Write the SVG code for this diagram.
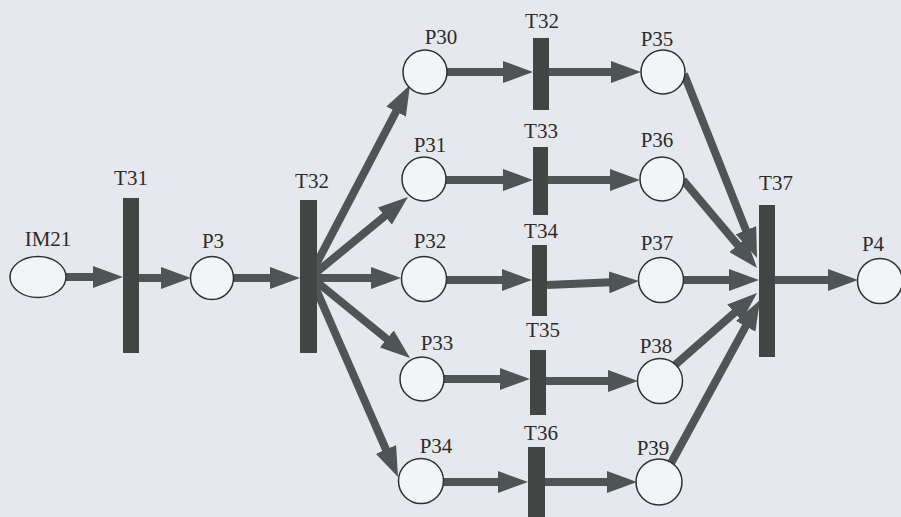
<svg xmlns="http://www.w3.org/2000/svg" width="901" height="517" viewBox="0 0 901 517">
<defs>
<marker id="ah" viewBox="0 0 30 22" refX="8" refY="11" markerWidth="30" markerHeight="22" markerUnits="userSpaceOnUse" orient="auto">
<path d="M0,0 L30,11 L0,22 z" fill="#4f5554"/>
</marker>
<style>
.bg{fill:#e7e8ed}
.bar{fill:#414645}
.pl{fill:#f3f4f7;stroke:#2e3131;stroke-width:1.5}
.lb{font-family:"Liberation Serif","Times New Roman",serif;font-size:21px;fill:#2a2c2c;text-anchor:middle}
.ar{stroke:#4f5554;stroke-width:8;fill:none;marker-end:url(#ah)}
</style>
</defs>
<rect class="bg" x="0" y="0" width="901" height="517"/>
<g id="connectors">
<line class="ar" x1="66" y1="277" x2="101" y2="277"/>
<line class="ar" x1="139" y1="278" x2="169" y2="278"/>
<line class="ar" x1="233" y1="278" x2="278" y2="278"/>
<line class="ar" x1="310" y1="276" x2="399.8" y2="104.5"/>
<line class="ar" x1="312" y1="276" x2="391" y2="211"/>
<line class="ar" x1="317" y1="278" x2="379" y2="278"/>
<line class="ar" x1="312" y1="278" x2="393" y2="344"/>
<line class="ar" x1="312" y1="280" x2="389.2" y2="456.8"/>
<line class="ar" x1="447" y1="72" x2="511" y2="72"/>
<line class="ar" x1="446" y1="180" x2="511" y2="180"/>
<line class="ar" x1="446" y1="280" x2="510" y2="280"/>
<line class="ar" x1="444" y1="379" x2="508" y2="379"/>
<line class="ar" x1="443" y1="482" x2="506" y2="482"/>
<line class="ar" x1="549" y1="72" x2="619" y2="72"/>
<line class="ar" x1="548" y1="180" x2="618" y2="180"/>
<line class="ar" x1="547" y1="285" x2="617" y2="282"/>
<line class="ar" x1="546" y1="381" x2="616" y2="381"/>
<line class="ar" x1="545" y1="482" x2="615" y2="482"/>
<line class="ar" x1="684" y1="74" x2="748.9" y2="237.6"/>
<line class="ar" x1="683" y1="180" x2="742.9" y2="251.2"/>
<line class="ar" x1="683" y1="280" x2="737" y2="280"/>
<line class="ar" x1="675" y1="365" x2="740.5" y2="307.5"/>
<line class="ar" x1="670" y1="465" x2="749.5" y2="319.3"/>
<line class="ar" x1="775" y1="280" x2="836" y2="280"/>
</g>
<g id="IM21"><ellipse class="pl" cx="38" cy="277" rx="28" ry="20.5"/><text class="lb" x="48" y="246">IM21</text></g>
<g id="T31"><rect class="bar" x="123" y="198" width="16" height="155"/><text class="lb" x="131" y="185">T31</text></g>
<g id="P3"><circle class="pl" cx="212" cy="278" r="21.5"/><text class="lb" x="213" y="248">P3</text></g>
<g id="T32a"><rect class="bar" x="300" y="200" width="17" height="153"/><text class="lb" x="312" y="188">T32</text></g>
<g id="P30"><circle class="pl" cx="425" cy="72" r="22"/><text class="lb" x="441" y="44">P30</text></g>
<g id="P31"><circle class="pl" cx="424" cy="179" r="22"/><text class="lb" x="430" y="152">P31</text></g>
<g id="P32"><circle class="pl" cx="424" cy="279" r="22.5"/><text class="lb" x="430" y="248">P32</text></g>
<g id="P33"><circle class="pl" cx="422" cy="379" r="22"/><text class="lb" x="437" y="350">P33</text></g>
<g id="P34"><circle class="pl" cx="421" cy="481" r="22.5"/><text class="lb" x="436" y="453">P34</text></g>
<g id="T32b"><rect class="bar" x="533" y="38" width="16" height="72"/><text class="lb" x="542" y="28">T32</text></g>
<g id="T33"><rect class="bar" x="533" y="147" width="15" height="68"/><text class="lb" x="541" y="138">T33</text></g>
<g id="T34"><rect class="bar" x="532" y="245" width="15" height="71"/><text class="lb" x="541" y="238">T34</text></g>
<g id="T35"><rect class="bar" x="530" y="350" width="16" height="65"/><text class="lb" x="543" y="337">T35</text></g>
<g id="T36"><rect class="bar" x="528" y="447" width="17" height="80"/><text class="lb" x="541" y="440">T36</text></g>
<g id="P35"><circle class="pl" cx="663" cy="72" r="22"/><text class="lb" x="657" y="46">P35</text></g>
<g id="P36"><circle class="pl" cx="662" cy="179" r="22"/><text class="lb" x="657" y="147">P36</text></g>
<g id="P37"><circle class="pl" cx="661" cy="280" r="22.5"/><text class="lb" x="657" y="250">P37</text></g>
<g id="P38"><circle class="pl" cx="660" cy="381" r="22.5"/><text class="lb" x="656" y="353">P38</text></g>
<g id="P39"><circle class="pl" cx="659" cy="482" r="23"/><text class="lb" x="653" y="455">P39</text></g>
<g id="T37"><rect class="bar" x="759" y="205" width="16" height="152"/><text class="lb" x="776" y="190">T37</text></g>
<g id="P4"><circle class="pl" cx="880" cy="281" r="22.5"/><text class="lb" x="873" y="251">P4</text></g>
</svg>
